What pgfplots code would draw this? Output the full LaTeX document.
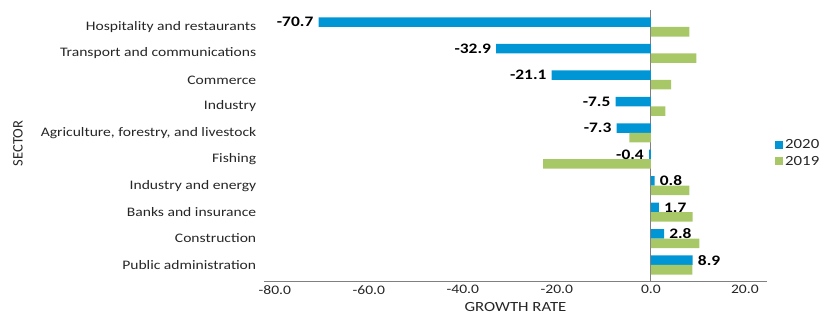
\documentclass[border=0pt]{standalone}
\usepackage{pgfplots}
\pgfplotsset{compat=1.18}
\usepackage{fontspec}
\setmainfont{Carlito}[FakeStretch=1.2]
\newfontfamily\plainfont{Carlito}
\definecolor{blueA}{HTML}{0096D6}
\definecolor{greenA}{HTML}{A8C868}
\definecolor{txt}{HTML}{262626}
\begin{document}
\begin{tikzpicture}
\useasboundingbox (0,0) rectangle (824pt,318pt);
\begin{axis}[
  at={(264pt,36pt)}, anchor=south west,
  scale only axis, width=503pt, height=272pt,
  xmin=-82.3, xmax=24.7, ymin=-0.643, ymax=9.643,
  xbar, bar width=0.36,
  axis x line*=bottom, axis y line*=left,
  y axis line style={draw=none},
  x axis line style={draw=gray, line width=1pt},
  xtick={-80,-60,-40,-20,0,20},
  xtick style={draw=none}, ytick style={draw=none},
  ytick={0,...,9},
  yticklabels={Public administration, Construction, Banks and insurance, Industry and energy, Fishing, {Agriculture, forestry, and livestock}, Industry, Commerce, Transport and communications, Hospitality and restaurants},
  tick label style={font=\fontsize{13}{15}\selectfont, text=txt},
  /pgf/number format/.cd, fixed, fixed zerofill, precision=1, assume math mode=true,
  /pgfplots/.cd,
  extra x ticks={0}, extra x tick labels={},
  extra x tick style={grid=major, major grid style={draw=gray, line width=1pt}},
  xlabel={GROWTH RATE},
  xlabel style={font=\fontsize{14}{16}\selectfont, text=txt, inner sep=1pt, yshift=-3pt},
  ylabel={SECTOR},
  ylabel style={at={(axis description cs:-0.489,0.51)}, anchor=center, font=\plainfont\fontsize{14.5}{16}\selectfont, text=txt},
  legend style={at={(axis description cs:1,0.474)}, anchor=west, xshift=5pt, draw=none, fill=none, font=\fontsize{14}{15}\selectfont, text=txt, row sep=2pt},
  legend image code/.code={\fill[#1,draw=none] (0pt,-4pt) rectangle (8pt,4pt);},
]
\addplot[fill=blueA, draw=none, bar shift=0.18,
  nodes near coords, nodes near coords align=horizontal,
  every node near coord/.append style={font=\bfseries\fontsize{14.5}{16}\selectfont, text=black, inner xsep=5pt}]
  coordinates {(8.9,0) (2.8,1) (1.7,2) (0.8,3) (-0.4,4) (-7.3,5) (-7.5,6) (-21.1,7) (-32.9,8) (-70.7,9)};
\addplot[fill=greenA, draw=none, bar shift=-0.18]
  coordinates {(8.8,0) (10.3,1) (8.9,2) (8.2,3) (-22.9,4) (-4.6,5) (3.1,6) (4.3,7) (9.7,8) (8.2,9)};
\legend{2020, 2019}
\end{axis}
\end{tikzpicture}
\end{document}
